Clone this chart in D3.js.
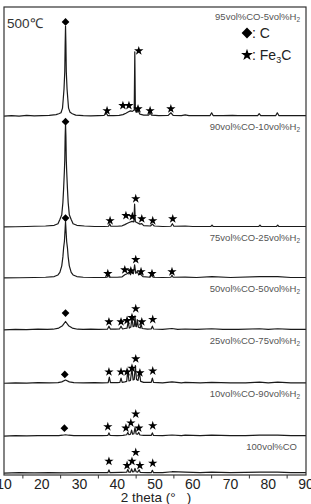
<!DOCTYPE html>
<meta charset="utf-8">
<style>
body { margin: 0; background: #fff; }
svg { display: block; font-family: "Liberation Sans", Arial, sans-serif; }
.trace { fill: none; stroke: #1a1a1a; stroke-width: 1.2; stroke-linejoin: round; }
.frame { fill: none; stroke: #333; stroke-width: 1.2; }
</style>
<svg width="311" height="504"></svg>
<script src="https://d3js.org/d3.v7.min.js"></script>
<script>

var svg = d3.select("svg");

// gas compositions, top to bottom
var labels = ["95vol%CO-5vol%H", "90vol%CO-10vol%H", "75vol%CO-25vol%H", "50vol%CO-50vol%H",
              "25vol%CO-75vol%H", "10vol%CO-90vol%H", "100vol%CO"];
// vertical offset of each pattern (a.u.)
var offsets = [76.5, 52.8, 41.9, 30.8, 19.4, 8.1, 0.3];

var xTicks = [10, 20, 30, 40, 50, 60, 70, 80, 90];

// patterns: [2theta, intensity a.u.]
var p95 = [[10,0.2],[12,0.3],[14,0.2],[16,0.35],[18,0.25],[20,0.3],[22,0.35],[23.8,0.5],[24.5,0.7],[25.1,0.9],[25.5,1.9],
  [25.7,3.9],[25.9,6.0],[26.1,9.7],[26.2,15.5],[26.3,19.4],[26.4,15.5],[26.5,9.7],[26.7,6.0],[26.9,3.9],[27.1,1.9],
  [27.5,1.0],[28.1,0.7],[29,0.4],[31,0.3],[33,0.25],[35,0.3],[36.5,0.35],[37.1,0.8],[37.5,0.3],[39,0.3],[40.5,0.35],
  [41.5,0.5],[42.3,0.8],[43.0,1.1],[43.5,1.3],[44.0,1.2],[44.5,1.5],[44.65,13.9],[44.8,1.4],[45.2,1.0],[45.6,1.3],
  [46.0,0.6],[47,0.4],[48.3,0.4],[48.7,0.8],[49.1,0.4],[51,0.3],[53.5,0.35],[54.2,0.9],[54.8,0.35],[57,0.3],[58,0.45],
  [59,0.3],[62,0.3],[64.6,0.3],[65,0.9],[65.4,0.3],[68,0.3],[70.5,0.35],[72,0.3],[75,0.3],[77.2,0.3],[77.6,0.7],
  [78,0.3],[80,0.3],[82.0,0.3],[82.4,0.9],[82.8,0.3],[86,0.3],[90,0.3]];

var p90 = [[10,0.2],[13,0.25],[16,0.3],[18,0.35],[21,0.4],[23.3,0.55],[24.3,0.9],[24.8,1.8],[25.3,2.8],[25.6,5.4],
  [25.8,8.5],[26.0,12.2],[26.1,14.5],[26.2,19.6],[26.3,22.2],[26.4,19.6],[26.5,14.5],[26.6,12.2],[26.8,8.5],[27.0,5.4],
  [27.3,2.8],[27.8,1.8],[28.3,0.9],[29.3,0.55],[31.3,0.4],[34,0.3],[36.5,0.3],[37.7,0.35],[38.0,0.9],[38.3,0.35],
  [40,0.35],[41.3,0.45],[42.0,0.7],[42.7,1.0],[43.3,1.2],[43.9,1.4],[44.4,1.3],[44.6,5.1],[44.8,1.3],[45.3,1.1],
  [46.0,0.8],[46.5,0.9],[47,0.5],[48.8,0.4],[49.3,0.8],[49.8,0.4],[52,0.3],[54.2,0.35],[54.6,0.9],[55,0.35],[58,0.4],
  [60,0.3],[64.8,0.3],[65.1,0.6],[65.4,0.3],[70,0.3],[77.5,0.3],[77.8,0.6],[78.1,0.3],[82.2,0.3],[82.5,0.6],[82.8,0.3],
  [86,0.3],[90,0.3]];

var p75 = [[10,0.2],[14,0.25],[18,0.3],[21,0.35],[23.3,0.5],[24.3,0.85],[24.8,1.4],[25.3,2.8],[25.6,4.7],[25.8,6.7],
  [26.0,8.0],[26.1,9.4],[26.2,10.8],[26.3,12.2],[26.4,10.8],[26.5,9.4],[26.6,8.0],[26.8,6.7],[27.0,4.7],[27.3,2.8],
  [27.8,1.4],[28.3,0.85],[29.3,0.5],[31,0.35],[34,0.3],[36.5,0.3],[37.3,0.35],[37.6,0.9],[37.9,0.35],[40,0.35],
  [41.3,0.45],[42.0,0.9],[42.6,1.1],[43.2,1.5],[43.5,0.9],[43.8,1.6],[44.3,1.2],[44.6,3.0],[44.9,1.2],[45.3,1.6],
  [45.7,0.9],[46.2,1.0],[46.8,0.5],[48.7,0.35],[49.1,0.8],[49.5,0.35],[52,0.3],[54.2,0.35],[54.5,0.8],[54.8,0.35],
  [58,0.4],[61,0.3],[65.1,0.5],[70,0.3],[77.7,0.5],[82.5,0.5],[86,0.3],[90,0.3]];

var p50 = [[10,0.2],[13,0.3],[16,0.25],[19,0.35],[21.5,0.3],[23,0.35],[24.5,0.6],[25.5,1.1],[26.3,2.0],[27.1,1.1],
  [28.1,0.6],[29.5,0.35],[31,0.3],[33,0.35],[35,0.3],[37.4,0.35],[37.8,1.0],[38.2,0.35],[39.5,0.35],[40.6,0.4],
  [41.0,1.0],[41.4,0.4],[42.0,0.5],[42.6,0.6],[42.9,2.0],[43.2,0.6],[43.6,0.8],[43.9,2.8],[44.2,0.9],[44.5,1.0],
  [44.7,3.2],[44.9,1.0],[45.1,0.9],[45.3,2.4],[45.6,0.8],[46.1,0.6],[46.3,1.5],[46.6,0.5],[48,0.35],[49.0,0.4],
  [49.3,1.0],[49.6,0.4],[52,0.3],[54.5,0.5],[56,0.3],[58,0.4],[61,0.3],[65,0.45],[68,0.3],[72,0.3],[77.7,0.45],
  [80,0.3],[82.5,0.45],[86,0.3],[90,0.3]];

var p25 = [[10,0.2],[13,0.3],[16,0.25],[19,0.35],[22,0.3],[24.3,0.35],[25.3,0.5],[26.3,0.9],[27.3,0.5],[28.5,0.35],
  [31,0.3],[34,0.35],[36,0.3],[37.6,0.35],[37.9,1.5],[38.2,0.35],[40,0.35],[40.7,0.4],[41.0,1.3],[41.3,0.4],[42.0,0.5],
  [42.5,0.6],[42.8,3.0],[43.1,0.7],[43.5,0.8],[43.9,3.4],[44.2,0.9],[44.5,1.0],[44.8,4.0],[45.1,1.0],[45.5,0.8],
  [45.9,2.4],[46.2,0.6],[47,0.4],[49.0,0.4],[49.3,1.3],[49.6,0.4],[52,0.3],[54.5,0.5],[57,0.3],[58,0.4],[62,0.3],
  [65,0.4],[70,0.3],[74,0.3],[77.7,0.45],[80,0.3],[82.5,0.45],[86,0.3],[90,0.3]];

var p10 = [[10,0.2],[13,0.3],[16,0.25],[19,0.3],[22,0.3],[24.5,0.3],[25.5,0.4],[26.3,0.5],[27.1,0.4],[28.5,0.3],
  [31,0.3],[34,0.3],[36,0.3],[37.5,0.35],[37.8,0.9],[38.1,0.35],[40,0.3],[41.5,0.35],[42.5,0.5],[42.8,1.0],[43.1,0.5],
  [43.5,0.6],[43.8,1.5],[44.1,0.6],[44.4,0.7],[44.7,2.0],[45.0,0.7],[45.4,0.6],[45.7,1.0],[46.0,0.45],[47,0.35],
  [49.0,0.35],[49.3,0.9],[49.6,0.35],[52,0.3],[54.5,0.45],[57,0.3],[58,0.4],[62,0.3],[65,0.4],[70,0.3],[74,0.3],
  [77.7,0.4],[82.5,0.4],[86,0.3],[90,0.3]];

var p100 = [[10,0.1],[14,0.2],[18,0.15],[22,0.2],[26,0.15],[30,0.2],[34,0.2],[37.5,0.2],[37.8,0.8],[38.1,0.2],
  [41,0.25],[42.5,0.3],[42.8,0.9],[43.1,0.3],[43.5,0.3],[43.8,1.0],[44.1,0.35],[44.4,0.4],[44.7,1.1],[45.0,0.4],
  [45.4,0.3],[45.8,0.8],[46.1,0.25],[48,0.2],[49.0,0.2],[49.3,0.7],[49.6,0.2],[52,0.2],[54.5,0.4],[58,0.3],[62,0.2],
  [65,0.3],[70,0.2],[77.7,0.3],[82.5,0.3],[86,0.2],[90,0.2]];

var patterns = [p95, p90, p75, p50, p25, p10, p100];

// marker positions [2theta, height above own baseline]
var cMarks = [[26.3, 20.3], [26.3, 22.7], [26.3, 13.0], [26.3, 3.8], [26.1, 2.1], [26.0, 1.9]];
var feMarks = [
  [[37.3,1.5],[41.5,2.6],[43.1,2.6],[45.5,1.9],[48.7,1.5],[54.2,1.9],[45.7,14.3]],
  [[38.1,1.7],[42.3,2.8],[44.0,2.6],[46.5,2.1],[49.4,1.7],[54.7,2.1],[44.9,6.4]],
  [[37.5,1.3],[42.0,2.1],[43.6,1.9],[44.9,4.3],[46.3,1.7],[49.2,1.3],[54.5,1.7]],
  [[37.8,2.1],[41.0,2.1],[42.6,2.4],[43.9,3.0],[44.9,4.9],[46.5,2.1],[49.4,2.6]],
  [[37.8,2.8],[41.0,2.8],[42.6,2.8],[43.9,3.6],[44.9,5.6],[46.0,2.6],[49.4,3.0]],
  [[37.5,2.4],[42.3,2.1],[43.6,3.2],[44.9,5.1],[45.7,2.1],[49.4,2.6]],
  [[37.8,2.8],[42.6,1.9],[43.9,2.8],[44.9,4.7],[46.0,1.9],[49.4,2.4]]
];

var x = d3.scaleLinear().domain([10, 90]).range([4, 306]);
var y = d3.scaleLinear().domain([0, 100]).range([475, 7]);

var line = d3.line()
  .x(function(d) { return x(d[0]); })
  .y(function(d) { return y(d[1]); });

var starSym = d3.symbol().type(d3.symbolStar).size(27);
var diaSym = d3.symbol().type(d3.symbolSquare).size(30);

// traces
patterns.forEach(function(p, i) {
  var off = offsets[i];
  svg.append("path")
    .attr("class", "trace")
    .attr("d", line(p.map(function(d) { return [d[0], d[1] + off]; })));
});

// markers
cMarks.forEach(function(m, i) {
  svg.append("path")
    .attr("d", diaSym())
    .attr("fill", "#000")
    .attr("transform", "translate(" + x(m[0]) + "," + y(m[1] + offsets[i]) + ") rotate(45)");
});
feMarks.forEach(function(list, i) {
  list.forEach(function(m) {
    svg.append("path")
      .attr("d", starSym())
      .attr("fill", "#000")
      .attr("transform", "translate(" + x(m[0]) + "," + (y(m[1] + offsets[i]) + 0.8) + ")");
  });
});

// composition labels
labels.forEach(function(t, i) {
  var top = i == 0 ? y(100) : y(offsets[i - 1]);
  var txt = svg.append("text")
    .attr("x", i == 6 ? 297 : 300)
    .attr("y", top + 13)
    .attr("text-anchor", "end")
    .attr("font-size", "9.5px")
    .attr("fill", "#555")
    .text(t);
  if (i < 6) txt.append("tspan").attr("font-size", "6.5px").attr("dy", 2).text("2");
});

// frame
svg.append("rect").attr("class", "frame")
  .attr("x", x(10)).attr("y", y(100))
  .attr("width", x(90) - x(10)).attr("height", y(0) - y(100));

// x axis
var axis = svg.append("g").attr("transform", "translate(0," + y(0) + ")");
axis.selectAll("line.minor")
  .data(d3.range(15, 90, 10))
  .enter().append("line")
  .attr("x1", function(d) { return x(d); }).attr("x2", function(d) { return x(d); })
  .attr("y1", 0).attr("y2", 3.5)
  .attr("stroke", "#333");
axis.selectAll("text")
  .data(xTicks)
  .enter().append("text")
  .attr("x", function(d) { return x(d); })
  .attr("y", 13.5)
  .attr("text-anchor", "middle")
  .attr("font-size", "14px")
  .attr("fill", "#222")
  .text(function(d) { return d; });

svg.append("text")
  .attr("x", 156).attr("y", 502)
  .attr("text-anchor", "middle")
  .attr("font-size", "13.5px")
  .attr("fill", "#222")
  .attr("xml:space", "preserve")
  .style("white-space", "pre")
  .text("2 theta (\u00b0   )");

// temperature
svg.append("text")
  .attr("x", 7).attr("y", 28)
  .attr("font-size", "13.5px")
  .attr("fill", "#333")
  .text("500\u2103");

// legend
svg.append("path")
  .attr("d", d3.symbol().type(d3.symbolSquare).size(58)())
  .attr("fill", "#000")
  .attr("transform", "translate(247,33) rotate(45)");
svg.append("text").attr("x", 252).attr("y", 38)
  .attr("font-size", "14px").attr("fill", "#222").text(": C");
svg.append("path")
  .attr("d", d3.symbol().type(d3.symbolStar).size(44)())
  .attr("fill", "#000")
  .attr("transform", "translate(247,55)");
var fe = svg.append("text").attr("x", 252).attr("y", 60)
  .attr("font-size", "14px").attr("fill", "#222").text(": Fe");
fe.append("tspan").attr("font-size", "9px").attr("dy", 3).text("3");
fe.append("tspan").attr("dy", -3).text("C");

</script>
